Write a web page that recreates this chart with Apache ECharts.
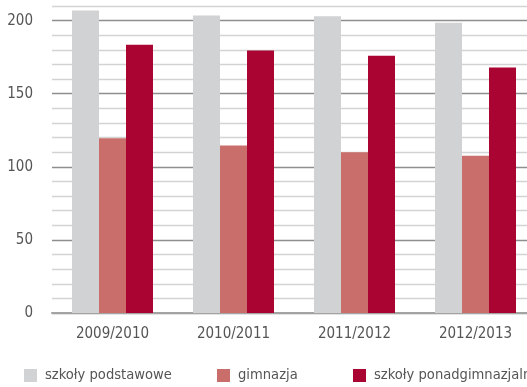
<!DOCTYPE html>
<html>
<head>
<meta charset="utf-8">
<script src="https://cdn.jsdelivr.net/npm/echarts@6/dist/echarts.min.js"></script>
<style>
  html, body { margin: 0; padding: 0; background: #fff; overflow: hidden; }
  /* the drawing surface is a little wider than the page, so the plot runs off the right edge */
  #chart { width: 536px; height: 387px; }
</style>
</head>
<body>
<div id="chart"></div>
<script>
// School years on the category axis
const categories = ['2009/2010', '2010/2011', '2011/2012', '2012/2013'];

// Series names and values
const seriesNames = ['szkoły podstawowe', 'gimnazja', 'szkoły ponadgimnazjalne'];
const podstawowe = [207, 203.5, 203, 198.5];
const gimnazja = [119.5, 114.5, 110, 107.5];
const ponadgimnazjalne = [183.5, 179.5, 176, 168];

// Value axis: labelled every 50, grid lines every 10
const yMin = 0;
const yMax = 210;
const yStep = 10;
const yLabelStep = 50;

const colors = ['#d1d2d4', '#c96e6a', '#a90432'];
const fontFamily = '"DejaVu Sans Condensed", "Liberation Sans Narrow", sans-serif';

const chart = echarts.init(document.getElementById('chart'), null, { renderer: 'canvas' });

function legendFor(name, left) {
  return {
    data: [name],
    left: left,
    top: 363,
    icon: 'rect',
    itemWidth: 13,
    itemHeight: 13,
    selectedMode: false,
    textStyle: { fontFamily: fontFamily, fontSize: 14.6, color: '#555', padding: [0, 0, 0, 3] }
  };
}

chart.setOption({
  animation: false,
  color: colors,
  grid: { left: 52, right: 0, top: 6, bottom: 74, containLabel: false },
  legend: [
    legendFor(seriesNames[0], 19),
    legendFor(seriesNames[1], 212),
    legendFor(seriesNames[2], 348)
  ],
  xAxis: {
    type: 'category',
    data: categories,
    axisLine: { lineStyle: { color: '#a3a3a3', width: 2 } },
    axisTick: { show: false },
    axisLabel: { fontFamily: fontFamily, fontSize: 15, color: '#555', margin: 14 }
  },
  yAxis: {
    type: 'value',
    min: yMin,
    max: yMax,
    interval: yStep,
    axisLine: { show: false },
    axisTick: { show: false },
    axisLabel: {
      fontFamily: fontFamily, fontSize: 15, color: '#555', margin: 19,
      formatter: v => (v % yLabelStep === 0 ? String(v) : '')
    },
    splitLine: {
      lineStyle: {
        width: 1.4,
        color: ['#8e8e8e', '#d3d3d3', '#d3d3d3', '#d3d3d3', '#d3d3d3']
      }
    }
  },
  series: [
    { name: seriesNames[0], type: 'bar', data: podstawowe, barWidth: 27, barGap: '0%' },
    { name: seriesNames[1], type: 'bar', data: gimnazja, barWidth: 27, barGap: '0%' },
    { name: seriesNames[2], type: 'bar', data: ponadgimnazjalne, barWidth: 27, barGap: '0%' }
  ]
});
</script>
</body>
</html>
